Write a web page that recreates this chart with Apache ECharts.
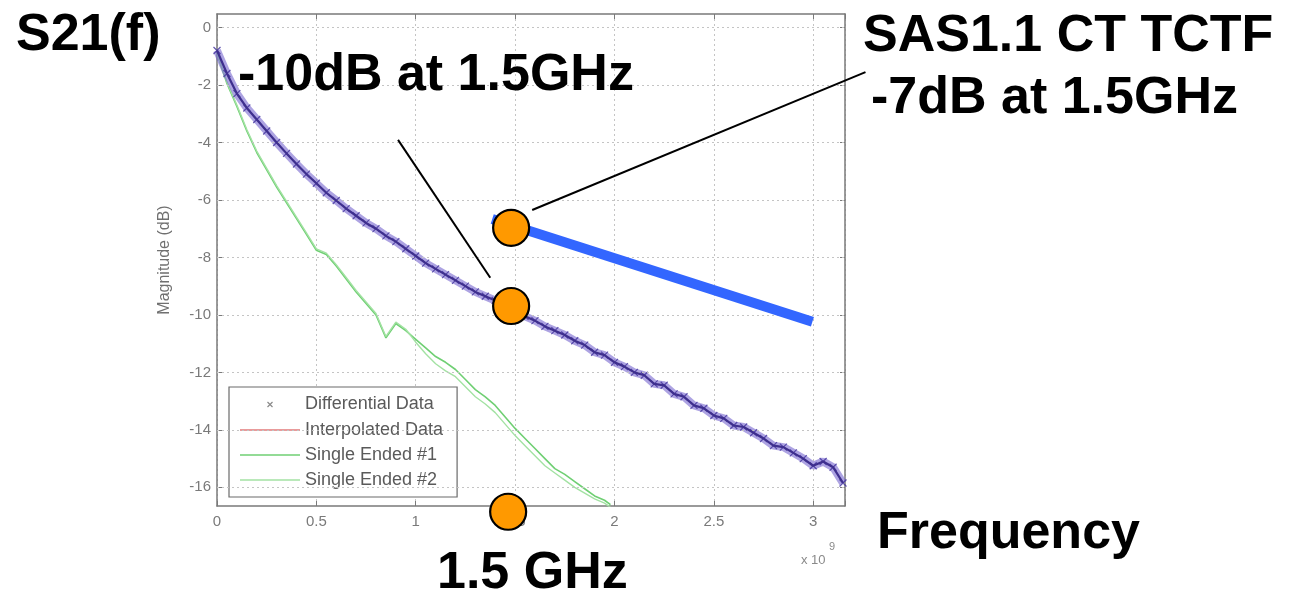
<!DOCTYPE html>
<html>
<head>
<meta charset="utf-8">
<script src="https://cdn.jsdelivr.net/npm/echarts@6/dist/echarts.min.js"></script>
<style>
html,body{margin:0;padding:0;background:#fff;}
#chart{width:1293px;height:597px;}
</style>
</head>
<body>
<div id="chart"></div>
<script>
// ---- data (frequency in GHz, magnitude in dB) ----
const diffFreq = [0.00,0.05,0.10,0.15,0.20,0.25,0.30,0.35,0.40,0.45,0.50,0.55,0.60,0.65,0.70,0.75,0.80,0.85,0.90,0.95,
  1.00,1.05,1.10,1.15,1.20,1.25,1.30,1.35,1.40,1.45,1.50,1.55,1.60,1.65,1.70,1.75,1.80,1.85,1.90,1.95,
  2.00,2.05,2.10,2.15,2.20,2.25,2.30,2.35,2.40,2.45,2.50,2.55,2.60,2.65,2.70,2.75,2.80,2.85,2.90,2.95,
  3.00,3.05,3.10,3.15];
const diffDb = [-0.8,-1.6,-2.3,-2.8,-3.2,-3.6,-4.0,-4.38,-4.75,-5.1,-5.42,-5.75,-6.02,-6.3,-6.55,-6.8,-7.0,-7.25,-7.45,-7.7,
  -7.95,-8.2,-8.4,-8.6,-8.8,-9.0,-9.2,-9.35,-9.5,-9.72,-9.92,-10.05,-10.2,-10.4,-10.55,-10.7,-10.9,-11.05,-11.3,-11.4,
  -11.65,-11.8,-12.0,-12.1,-12.4,-12.45,-12.75,-12.85,-13.15,-13.25,-13.5,-13.6,-13.85,-13.9,-14.1,-14.3,-14.55,-14.6,-14.8,-15.0,
  -15.25,-15.1,-15.3,-15.85];
const seFreq = [0.00,0.05,0.10,0.15,0.20,0.25,0.30,0.35,0.40,0.45,0.50,0.55,0.60,0.65,0.70,0.75,0.80,0.85,0.90,0.95,
  1.00,1.05,1.10,1.15,1.20,1.25,1.30,1.35,1.40,1.45,1.50,1.55,1.60,1.65,1.70,1.75,1.80,1.85,1.90,1.95,1.98];
const se1Db = [-0.9,-1.95,-2.75,-3.6,-4.35,-4.95,-5.55,-6.1,-6.65,-7.2,-7.75,-7.9,-8.3,-8.75,-9.2,-9.6,-10.0,-10.8,-10.3,-10.55,
  -10.85,-11.15,-11.45,-11.65,-11.9,-12.25,-12.6,-12.85,-13.15,-13.55,-13.95,-14.3,-14.65,-15.0,-15.35,-15.55,-15.8,-16.05,-16.3,-16.45,-16.6];
const se2Db = [-0.9,-1.9,-2.7,-3.55,-4.3,-4.9,-5.5,-6.05,-6.6,-7.15,-7.7,-7.85,-8.25,-8.7,-9.15,-9.55,-9.95,-10.75,-10.25,-10.5,
  -10.95,-11.35,-11.7,-11.95,-12.15,-12.5,-12.85,-13.1,-13.4,-13.8,-14.2,-14.55,-14.9,-15.25,-15.5,-15.75,-16.0,-16.2,-16.4,-16.55,-16.7];
// SAS1.1 CT TCTF limit line
const tctfFreq = [1.385, 2.996];
const tctfDb = [-6.66, -10.24];
// orange highlight markers
const markFreq = [1.48, 1.48, 1.465];
const markDb = [-6.97, -9.69, -16.85];
// leader lines for annotations (data units)
const leader1 = [[0.911, -3.91], [1.375, -8.71]];
const leader2 = [[1.586, -6.35], [3.263, -1.55]];
const xTicks = ['0','0.5','1','1.5','2','2.5','3'];
const yTicks = [-16,-14,-12,-10,-8,-6,-4,-2,0];
const legendNames = ['Differential Data','Interpolated Data','Single Ended #1','Single Ended #2'];

const zip = (a, b) => a.map((v, i) => [v, b[i]]);

const chart = echarts.init(document.getElementById('chart'), null, {renderer: 'canvas'});
const axisGray = '#7a7a7a';
const gridStyle = {color: '#c4c4c4', type: [2, 3], width: 1};
const bigFont = {fontFamily: 'Liberation Sans, Arial, sans-serif', fontWeight: 'bold', fontSize: 52, fill: '#000'};
const lineIcon = 'path://M0,0M60,14M0,6.2L60,6.2L60,7.8L0,7.8Z';

const option = {
  backgroundColor: '#ffffff',
  animation: false,
  grid: {left: 217, top: 14, width: 628, height: 492, show: false},
  xAxis: [{
    type: 'value', min: 0, max: 3.16, interval: 0.5, position: 'bottom',
    axisLine: {show: true, onZero: false, lineStyle: {color: axisGray, width: 1.5}},
    axisTick: {show: true, inside: true, length: 5, lineStyle: {color: axisGray}},
    axisLabel: {color: '#7a7a7a', fontSize: 15, margin: 8, fontFamily: 'Liberation Sans, Arial',
      formatter: v => { const s = String(Math.round(v * 100) / 100); return xTicks.indexOf(s) >= 0 ? s : ''; }},
    splitLine: {show: true, lineStyle: gridStyle}
  }, {
    type: 'value', min: 0, max: 3.16, interval: 0.5, position: 'top',
    axisLine: {show: true, onZero: false, lineStyle: {color: axisGray, width: 1.5}},
    axisTick: {show: true, inside: true, length: 5, lineStyle: {color: axisGray}},
    axisLabel: {show: false}, splitLine: {show: false}
  }],
  yAxis: [{
    type: 'value', min: -16.65, max: 0.47, position: 'left',
    name: 'Magnitude (dB)', nameLocation: 'middle', nameGap: 44,
    nameTextStyle: {color: '#707070', fontSize: 16, fontFamily: 'Liberation Sans, Arial'},
    axisLine: {show: true, onZero: false, lineStyle: {color: axisGray, width: 1.5}},
    axisTick: {show: true, inside: true, length: 5, customValues: yTicks, lineStyle: {color: axisGray}},
    axisLabel: {color: '#7a7a7a', fontSize: 15, margin: 6, fontFamily: 'Liberation Sans, Arial', customValues: yTicks},
    splitLine: {show: false}
  }, {
    type: 'value', min: -16.65, max: 0.47, position: 'right',
    axisLine: {show: true, onZero: false, lineStyle: {color: axisGray, width: 1.5}},
    axisTick: {show: true, inside: true, length: 5, customValues: yTicks, lineStyle: {color: axisGray}},
    axisLabel: {show: false}, splitLine: {show: false}
  }],
  legend: {
    orient: 'vertical', left: 229, top: 387,
    padding: [8, 14, 8, 11], itemWidth: 60, itemHeight: 14, itemGap: 7,
    selectedMode: false,
    backgroundColor: '#ffffff', borderColor: '#6a6a6a', borderWidth: 1.2,
    textStyle: {fontSize: 18, color: '#5a5a5a', fontFamily: 'Liberation Sans, Arial', lineHeight: 18},
    data: [
      {name: legendNames[0], icon: 'path://M0,0M14,14M4.5,4.5L9.5,9.5M9.5,4.5L4.5,9.5',
        itemStyle: {color: 'none', borderColor: '#8a8a8a', borderWidth: 1.2}},
      {name: legendNames[1], icon: lineIcon, itemStyle: {color: '#e27a7a', borderWidth: 0}},
      {name: legendNames[2], icon: lineIcon, itemStyle: {color: '#6fcf73', borderWidth: 0}},
      {name: legendNames[3], icon: lineIcon, itemStyle: {color: '#a3e2a3', borderWidth: 0}}
    ]
  },
  series: [
    {name: 'gridlines', type: 'line', data: [], z: 1, silent: true,
      markLine: {silent: true, symbol: 'none', label: {show: false}, animation: false,
        lineStyle: gridStyle, emphasis: {disabled: true},
        data: yTicks.map(v => ({yAxis: v}))}},
    {name: legendNames[2], type: 'line', data: zip(seFreq, se1Db), symbol: 'none', z: 2,
      lineStyle: {color: '#6fcf73', width: 1.6}, itemStyle: {color: '#6fcf73'}},
    {name: legendNames[3], type: 'line', data: zip(seFreq, se2Db), symbol: 'none', z: 2,
      lineStyle: {color: '#a3e2a3', width: 1.4}, itemStyle: {color: '#a3e2a3'}},
    {name: legendNames[1], type: 'line', data: zip(diffFreq, diffDb), symbol: 'none', z: 3,
      lineStyle: {color: '#e07070', width: 1}, itemStyle: {color: '#e07070'}},
    {name: legendNames[0], type: 'line', data: zip(diffFreq, diffDb), z: 4,
      symbol: 'path://M0,0L10,10M10,0L0,10', symbolSize: 7, showAllSymbol: true,
      lineStyle: {color: 'rgba(118,102,206,0.6)', width: 8},
      itemStyle: {color: 'none', borderColor: 'rgba(70,55,160,0.85)', borderWidth: 1.2}},
    {name: 'core', type: 'line', data: zip(diffFreq, diffDb), symbol: 'none', z: 5,
      lineStyle: {color: '#3e2f8e', width: 2.2}},
    {name: 'tctf', type: 'line', data: zip(tctfFreq, tctfDb), symbol: 'none', z: 6,
      lineStyle: {color: '#3366ff', width: 10, cap: 'butt'}},
    {name: 'marks', type: 'scatter', data: zip(markFreq, markDb), symbol: 'circle', symbolSize: 36,
      clip: false, z: 10,
      itemStyle: {color: '#ff9900', borderColor: '#000', borderWidth: 2.2, opacity: 1}}
  ]
};
chart.setOption(option);

// annotation leader lines and texts (leader ends mapped through the chart's scales)
const toPx = p => chart.convertToPixel({gridIndex: 0}, p);
const leaderGraphic = [leader1, leader2].map(seg => ({
  type: 'polyline', z: 50, silent: true,
  shape: {points: seg.map(toPx)},
  style: {stroke: '#000', lineWidth: 2, fill: null}
}));
const textGraphic = [
  ['S21(f)', 16, 36], ['-10dB at 1.5GHz', 238, 76], ['SAS1.1 CT TCTF', 863, 37],
  ['-7dB at 1.5GHz', 871, 99], ['Frequency', 877, 534], ['1.5 GHz', 437, 574]
].map(([t, x, y]) => ({type: 'text', x: x, y: y, z: 100, silent: true,
  style: Object.assign({text: t, verticalAlign: 'middle'}, bigFont)}));
chart.setOption({graphic: leaderGraphic.concat(textGraphic).concat([
  {type: 'text', x: 801, y: 560, z: 100, silent: true, style: {text: 'x 10', fontSize: 13, fill: '#8a8a8a', fontFamily: 'Liberation Sans, Arial', verticalAlign: 'middle'}},
  {type: 'text', x: 829, y: 547, z: 100, silent: true, style: {text: '9', fontSize: 11, fill: '#8a8a8a', fontFamily: 'Liberation Sans, Arial', verticalAlign: 'middle'}}
])});
</script>
</body>
</html>
